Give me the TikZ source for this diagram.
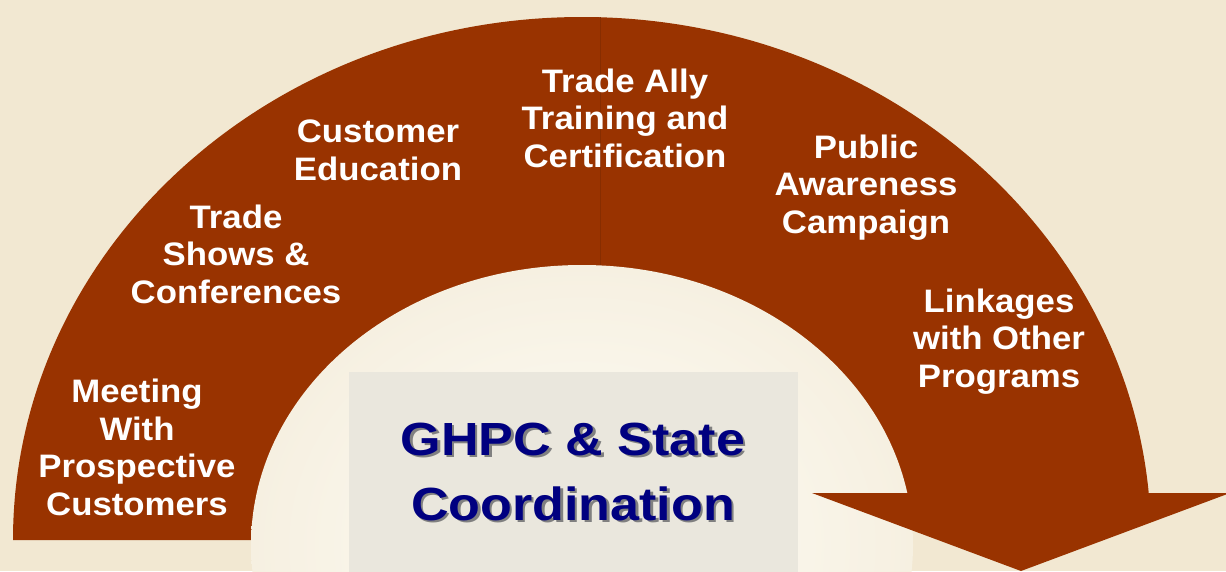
\documentclass[tikz,border=0pt]{standalone}
\usepackage{fontspec}
\setmainfont{Liberation Sans}[FakeStretch=1.07]
\newfontfamily\hubfont{Liberation Sans}[FakeStretch=1.12]
\tikzset{
  segtext/.style={anchor=base, text=white, align=center, inner sep=0pt,
    font=\fontsize{32.5}{37.5}\selectfont\bfseries},
  hubtext/.style={anchor=base, align=center, inner sep=0pt,
    font=\hubfont\fontsize{46.5}{65}\selectfont\bfseries},
}
\begin{document}
\begin{tikzpicture}[x=1pt, y=-1pt]
\definecolor{bg}{HTML}{F2E8D2}
\definecolor{arch}{HTML}{993300}
\definecolor{glowin}{HTML}{FFFDF7}
\definecolor{glowout}{HTML}{F6F0E1}
\definecolor{hub}{HTML}{EAE7DD}
\definecolor{navy}{HTML}{000080}
\fill[bg] (0,0) rectangle (1226,571);
\useasboundingbox (0,0) rectangle (1226,571);
% arch, cut flat at the bottom
\begin{scope}
\clip (0,0) -- (1226,0) -- (1226,493) -- (582,493) -- (582,540) -- (0,540) -- cycle;
\fill[arch] (582,540) ellipse [x radius=569, y radius=523];
\end{scope}
\draw[arch!88!black, line width=0.5pt] (600,17) -- (600,280);
% glow inside the arch
\shade[inner color=glowin, outer color=glowout] (582,545) ellipse [x radius=331, y radius=280];
% arrow head
\fill[arch] (812,493) -- (1230,493) -- (1021,571) -- cycle;
% centre box
\fill[hub] (349,372) rectangle (798,575);
\node[hubtext, text=black!50] (hubshade) at (575.5,522.5) {GHPC \& State\\Coordination};
\node[hubtext, text=navy] (hubtitle) at (573,520) {GHPC \& State\\Coordination};
% segment labels (base = last line)
\node[segtext] (meet) at (137,515) {Meeting\\With\\Prospective\\Customers};
\node[segtext] (shows) at (236,303) {Trade\\Shows \&\\Conferences};
\node[segtext] (educ) at (378,180) {Customer\\Education};
\node[segtext] (ally) at (625,167) {Trade Ally\\Training and\\Certification};
\node[segtext] (aware) at (866,233) {Public\\Awareness\\Campaign};
\node[segtext] (links) at (999,387) {Linkages\\with Other\\Programs};
\end{tikzpicture}
\end{document}
